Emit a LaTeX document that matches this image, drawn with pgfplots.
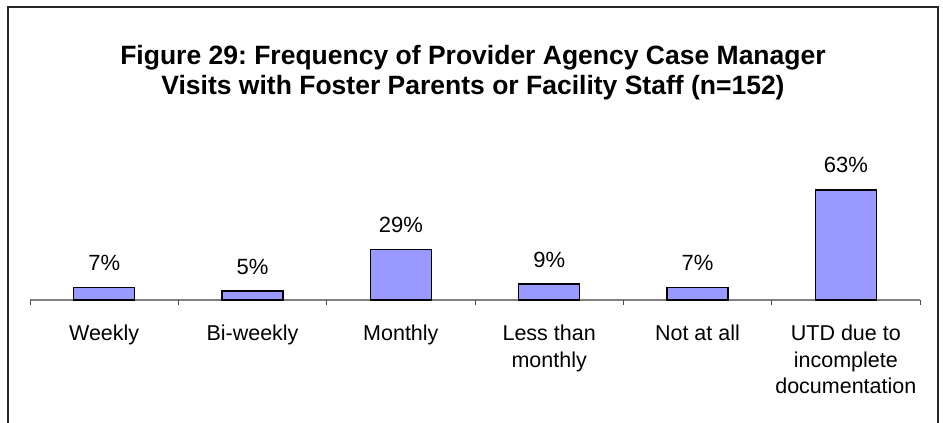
\documentclass[border=0pt]{standalone}
\usepackage{pgfplots}
\pgfplotsset{compat=1.18}
\usepackage{fontspec}
\setmainfont{Liberation Sans}
\frenchspacing
\definecolor{barfill}{HTML}{9999FF}
\begin{document}
\begin{tikzpicture}[x=1pt,y=1pt]
\useasboundingbox (0,0) rectangle (943,423);
\draw[line width=1.5pt, black!85] (8,0) -- (8,416) -- (938,416) -- (938,0);
\node[font=\fontsize{26.5}{30}\selectfont\bfseries, align=center] at (473,350) {Figure 29: Frequency of Provider Agency Case Manager\\Visits with Foster Parents or Facility Staff (n=152)};
\begin{axis}[
 at={(30pt,123pt)}, anchor=south west,
 scale only axis, width=890pt, height=122.5pt,
 xmin=-0.5, xmax=5.5, ymin=0, ymax=70,
 axis x line*=bottom, axis y line=none,
 x axis line style={-, draw=gray, line width=1.2pt},
 xtick={0,1,2,3,4,5},
 xticklabels={Weekly, Bi-weekly, Monthly, {Less than\\monthly}, Not at all, {UTD due to\\incomplete\\documentation}},
 major tick length=0pt,
 xticklabel style={font=\fontsize{21.5}{26.5}\selectfont, align=center, anchor=north, inner sep=0pt, yshift=-25pt},
 clip=false,
]
\addplot[draw=black!70, line width=1pt, forget plot, unbounded coords=jump] coordinates {
 (-0.5,0) (-0.5,-3) (-0.5,nan)
 (0.5,0) (0.5,-3) (0.5,nan)
 (1.5,0) (1.5,-3) (1.5,nan)
 (2.5,0) (2.5,-3) (2.5,nan)
 (3.5,0) (3.5,-3) (3.5,nan)
 (4.5,0) (4.5,-3) (4.5,nan)
 (5.5,0) (5.5,-3)
};
\addplot[ybar, bar width=61pt, fill=barfill, draw=black, line width=1.5pt,
 nodes near coords={\pgfmathprintnumber[assume math mode=true]{\pgfplotspointmeta}\%},
 nodes near coords style={font=\fontsize{22}{25}\selectfont, anchor=south, inner sep=0pt, yshift=16pt, text=black}]
 coordinates {(0,7) (1,5) (2,29) (3,9) (4,7) (5,63)};
\end{axis}
\end{tikzpicture}
\end{document}
